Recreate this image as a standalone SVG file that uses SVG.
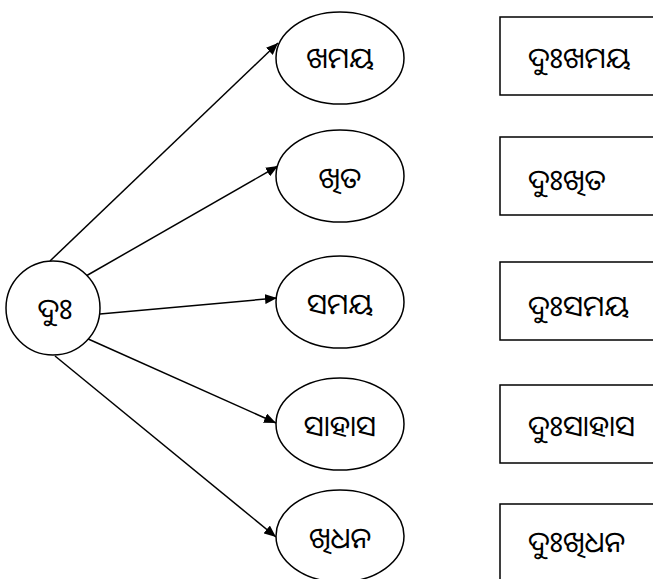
<svg xmlns="http://www.w3.org/2000/svg" width="653" height="579" viewBox="0 0 653 579">
<style>
.s{fill:#fff;stroke:#000;stroke-width:1.5}
.t{font-family:"Noto Sans Oriya","Noto Sans","DejaVu Sans",sans-serif;font-size:29px;fill:#000;dominant-baseline:central}
.m{text-anchor:middle}
.c{stroke:#000;stroke-width:1.5;fill:none;marker-end:url(#a)}
</style>
<defs>
<marker id="a" viewBox="0 0 12 10" refX="12" refY="5" markerWidth="12" markerHeight="10" markerUnits="userSpaceOnUse" orient="auto">
<path d="M0,0 L12,5 L0,10 z" fill="#000"/>
</marker>
</defs>
<rect width="653" height="579" fill="#fff"/>
<g id="connectors">
<line class="c" x1="50" y1="261" x2="278" y2="43"/>
<line class="c" x1="86" y1="276" x2="278" y2="166"/>
<line class="c" x1="100" y1="314" x2="277" y2="298"/>
<line class="c" x1="86" y1="338" x2="276" y2="423"/>
<line class="c" x1="55" y1="356" x2="276" y2="537"/>
</g>
<g id="n0"><circle class="s" cx="53" cy="308" r="47"/><text class="t m" x="55" y="307">ଦୁଃ</text></g>
<g id="e1"><ellipse class="s" cx="340" cy="58" rx="64" ry="46"/><text class="t m" x="340" y="56">ଖମୟ</text></g>
<g id="e2"><ellipse class="s" cx="340" cy="176" rx="64" ry="46"/><text class="t m" x="340" y="176">ଖିତ</text></g>
<g id="e3"><ellipse class="s" cx="340" cy="302" rx="64" ry="46"/><text class="t m" x="340" y="302">ସମୟ</text></g>
<g id="e4"><ellipse class="s" cx="340" cy="424" rx="64" ry="46"/><text class="t m" x="340" y="424">ସାହାସ</text></g>
<g id="e5"><ellipse class="s" cx="340" cy="536" rx="64" ry="46"/><text class="t m" x="340" y="536">ଖିଧନ</text></g>
<g id="r1"><rect class="s" x="500" y="17" width="170" height="78"/><text class="t" x="528" y="56">ଦୁଃଖମୟ</text></g>
<g id="r2"><rect class="s" x="500" y="137" width="170" height="78"/><text class="t" x="528" y="178">ଦୁଃଖିତ</text></g>
<g id="r3"><rect class="s" x="500" y="262" width="170" height="78"/><text class="t" x="528" y="304">ଦୁଃସମୟ</text></g>
<g id="r4"><rect class="s" x="500" y="385" width="170" height="78"/><text class="t" x="528" y="424">ଦୁଃସାହାସ</text></g>
<g id="r5"><rect class="s" x="500" y="504" width="170" height="90"/><text class="t" x="528" y="540">ଦୁଃଖିଧନ</text></g>
</svg>
